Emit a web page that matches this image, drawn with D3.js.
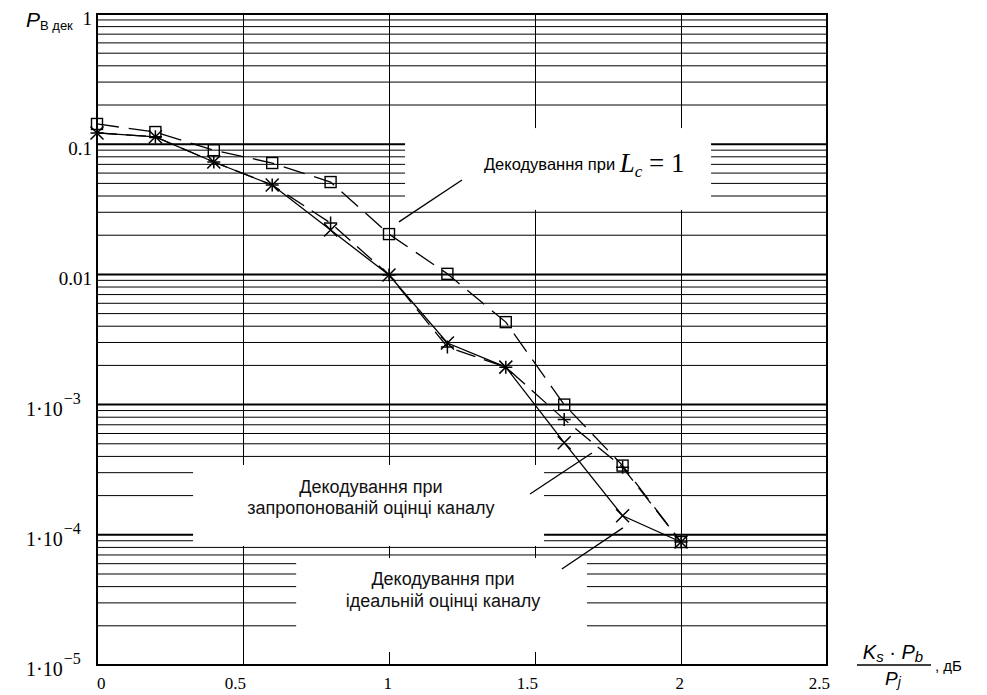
<!DOCTYPE html>
<html><head><meta charset="utf-8">
<script src="https://cdn.jsdelivr.net/npm/d3@7"></script>
<style>body{margin:0;background:#fff}svg{display:block}</style>
</head><body>
<script>
// ---- data ----
const xValues = [0, 0.2, 0.4, 0.6, 0.8, 1.0, 1.2, 1.4, 1.6, 1.8, 2.0];
const seriesLc1 = [0.143, 0.124, 0.090, 0.0717, 0.0512, 0.0204, 0.0101, 0.0043, 0.00100, 0.00034, 0.000088];
const seriesProposed = [0.122, 0.114, 0.073, 0.0486, 0.0248, 0.0099, 0.00277, 0.00194, 0.00077, 0.00033, 0.000088];
const seriesIdeal = [0.122, 0.114, 0.073, 0.0486, 0.0219, 0.0099, 0.00297, 0.00194, 0.00051, 0.00014, 0.000088];
const xTicks = [0, 0.5, 1, 1.5, 2, 2.5];
const xTickLabels = ["0", "0.5", "1", "1.5", "2", "2.5"];
const yDecades = [1, 0.1, 0.01, 1e-3, 1e-4, 1e-5];
const yTickMantissa = ["1", "0.1", "0.01", "1\u00b710", "1\u00b710", "1\u00b710"];
const yTickExponent = [null, null, null, "3", "4", "5"];
const boxLabels = [
  ["Декодування при"],
  ["Декодування при", "запропонованій оцінці каналу"],
  ["Декодування при", "ідеальній оцінці каналу"]
];

// ---- layout ----
const W = 987, H = 695;
const M = {left: 97, right: 827, top: 14, bottom: 665};
const svg = d3.select("body").append("svg").attr("width", W).attr("height", H);
const x = d3.scaleLinear().domain([0, 2.5]).range([M.left, M.right]);
const y = d3.scaleLog().domain([1e-5, 1]).range([M.bottom, M.top]);

const serif = "'Liberation Serif','Times New Roman',serif";
const sans = "'Liberation Sans',Arial,sans-serif";

// minor horizontal grid
const minor = [];
for (let e = -5; e <= -1; e++) for (let k = 2; k <= 9; k++) minor.push(k * Math.pow(10, e));
svg.append("g").selectAll("line").data(minor).join("line")
  .attr("x1", M.left).attr("x2", M.right)
  .attr("y1", d => y(d)).attr("y2", d => y(d))
  .attr("stroke", "#000").attr("stroke-width", 1);
// decade lines
svg.append("g").selectAll("line").data(yDecades.slice(1, 5)).join("line")
  .attr("x1", M.left).attr("x2", M.right)
  .attr("y1", d => y(d)).attr("y2", d => y(d))
  .attr("stroke", "#000").attr("stroke-width", 2);
// vertical grid
svg.append("g").selectAll("line").data(xTicks.slice(1, 5)).join("line")
  .attr("x1", d => Math.round(x(d)) + 0.5).attr("x2", d => Math.round(x(d)) + 0.5)
  .attr("y1", M.top).attr("y2", M.bottom)
  .attr("stroke", "#000").attr("stroke-width", 1);

// white annotation boxes (data coordinates)
const boxes = [
  {x0: 1.055, x1: 2.103, y0: 0.133, y1: 0.0313},
  {x0: 0.329, x1: 1.531, y0: 3.44e-4, y1: 8.2e-5},
  {x0: 0.682, x1: 1.678, y0: 6.63e-5, y1: 1.26e-5}
];
svg.append("g").selectAll("rect").data(boxes).join("rect")
  .attr("x", d => x(d.x0)).attr("width", d => x(d.x1) - x(d.x0))
  .attr("y", d => y(d.y0)).attr("height", d => y(d.y1) - y(d.y0))
  .attr("fill", "#fff");

// frame
svg.append("rect").attr("x", M.left).attr("y", M.top)
  .attr("width", M.right - M.left).attr("height", M.bottom - M.top)
  .attr("fill", "none").attr("stroke", "#000").attr("stroke-width", 2);

// series lines
const line = d3.line().x(d => x(d[0])).y(d => y(d[1]));
const mk = arr => xValues.map((v, i) => [v, arr[i]]);
svg.append("path").datum(mk(seriesLc1)).attr("d", line)
  .attr("fill", "none").attr("stroke", "#000").attr("stroke-width", 1.3).attr("stroke-dasharray", "22,10");
svg.append("path").datum(mk(seriesProposed)).attr("d", line)
  .attr("fill", "none").attr("stroke", "#000").attr("stroke-width", 1.3).attr("stroke-dasharray", "20,9");
svg.append("path").datum(mk(seriesIdeal)).attr("d", line)
  .attr("fill", "none").attr("stroke", "#000").attr("stroke-width", 1.3);

// markers
const s = 5.5;
svg.append("g").selectAll("rect").data(mk(seriesLc1)).join("rect")
  .attr("x", d => x(d[0]) - s).attr("y", d => y(d[1]) - s)
  .attr("width", 2 * s).attr("height", 2 * s)
  .attr("fill", "none").attr("stroke", "#000").attr("stroke-width", 1.4);
const c = 6.5;
svg.append("g").selectAll("path").data(mk(seriesProposed)).join("path")
  .attr("d", d => { const px = x(d[0]), py = y(d[1]);
    return `M${px - c},${py}H${px + c}M${px},${py - c}V${py + c}`; })
  .attr("stroke", "#000").attr("stroke-width", 1.5);
svg.append("g").selectAll("path").data(mk(seriesIdeal)).join("path")
  .attr("d", d => { const px = x(d[0]), py = y(d[1]);
    return `M${px - c},${py - c}L${px + c},${py + c}M${px - c},${py + c}L${px + c},${py - c}`; })
  .attr("stroke", "#000").attr("stroke-width", 1.5);

// leader lines (data coordinates)
const leaders = [
  [[1.034, 0.0253], [1.25, 0.0531]],
  [[1.483, 2.06e-4], [1.695, 4.25e-4]],
  [[1.592, 5.46e-5], [1.801, 1.13e-4]]
];
svg.append("g").selectAll("line").data(leaders).join("line")
  .attr("x1", d => x(d[0][0])).attr("y1", d => y(d[0][1]))
  .attr("x2", d => x(d[1][0])).attr("y2", d => y(d[1][1]))
  .attr("stroke", "#000").attr("stroke-width", 1.3);

// x tick labels
svg.append("g").selectAll("text").data(xTicks).join("text")
  .attr("x", (d, i) => i === 0 ? x(d) : x(d) + 3)
  .attr("y", 689)
  .attr("text-anchor", (d, i) => i === 0 ? "start" : "end")
  .attr("font-family", serif).attr("font-size", 17)
  .text((d, i) => xTickLabels[i]);

// y tick labels
yDecades.forEach((d, i) => {
  if (yTickExponent[i] === null) {
    svg.append("text").attr("y", y(d) + 11)
      .attr("font-family", serif).attr("font-size", 19)
      .attr("x", 92).attr("text-anchor", "end").text(yTickMantissa[i]);
  } else {
    const m = svg.append("text").attr("y", y(d) + 11)
      .attr("font-family", serif).attr("font-size", 20)
      .attr("x", 26).attr("text-anchor", "start").text(yTickMantissa[i]);
    const w = m.node().getComputedTextLength();
    svg.append("text").attr("x", 26 + w + 1).attr("y", y(d) - 1)
      .attr("font-family", serif).attr("font-size", 16)
      .text("\u2212" + yTickExponent[i]);
  }
});

// y axis title
const yt = svg.append("text").attr("x", 26).attr("y", 27).attr("font-family", sans);
yt.append("tspan").attr("font-size", 21).attr("font-style", "italic").text("P");
yt.append("tspan").attr("font-size", 13).attr("dy", 3).text("В дек");

// x axis title (fraction)
const fx = 893;
const num = svg.append("text").attr("x", fx).attr("y", 659).attr("text-anchor", "middle")
  .attr("font-family", sans).attr("font-size", 20);
num.append("tspan").attr("font-style", "italic").text("K");
num.append("tspan").attr("font-size", 15).attr("dy", 3).attr("font-style", "italic").text("s");
num.append("tspan").attr("dy", -3).text(" \u00b7 ");
num.append("tspan").attr("font-style", "italic").text("P");
num.append("tspan").attr("font-size", 15).attr("dy", 3).attr("font-style", "italic").text("b");
svg.append("line").attr("x1", 857).attr("x2", 931).attr("y1", 665).attr("y2", 665)
  .attr("stroke", "#000").attr("stroke-width", 1.3);
const den = svg.append("text").attr("x", fx).attr("y", 685).attr("text-anchor", "middle")
  .attr("font-family", sans).attr("font-size", 19);
den.append("tspan").attr("font-style", "italic").text("P");
den.append("tspan").attr("font-size", 14).attr("dy", 2).attr("font-style", "italic").text("j");
svg.append("text").attr("x", 935).attr("y", 671).attr("font-family", sans).attr("font-size", 15).text(", дБ");

// box texts
const t1 = svg.append("text").attr("x", x(1.325)).attr("y", 170).attr("font-family", sans).attr("font-size", 16.5);
t1.append("tspan").text(boxLabels[0][0]);
const t1b = svg.append("text").attr("x", x(1.79)).attr("y", 172).attr("font-family", serif).attr("font-size", 27);
t1b.append("tspan").attr("font-style", "italic").text("L");
t1b.append("tspan").attr("font-size", 17).attr("font-style", "italic").attr("dy", 5).text("c");
t1b.append("tspan").attr("dy", -5).text(" = 1");

[[1, 0.938, 493, 514], [2, 1.185, 585, 607]].forEach(([bi, cx, b1, b2]) => {
  [b1, b2].forEach((by, li) => {
    svg.append("text").attr("x", x(cx)).attr("y", by).attr("text-anchor", "middle")
      .attr("font-family", sans).attr("font-size", 18).attr("fill", "#111")
      .text(boxLabels[bi][li]);
  });
});
</script>
</body></html>
